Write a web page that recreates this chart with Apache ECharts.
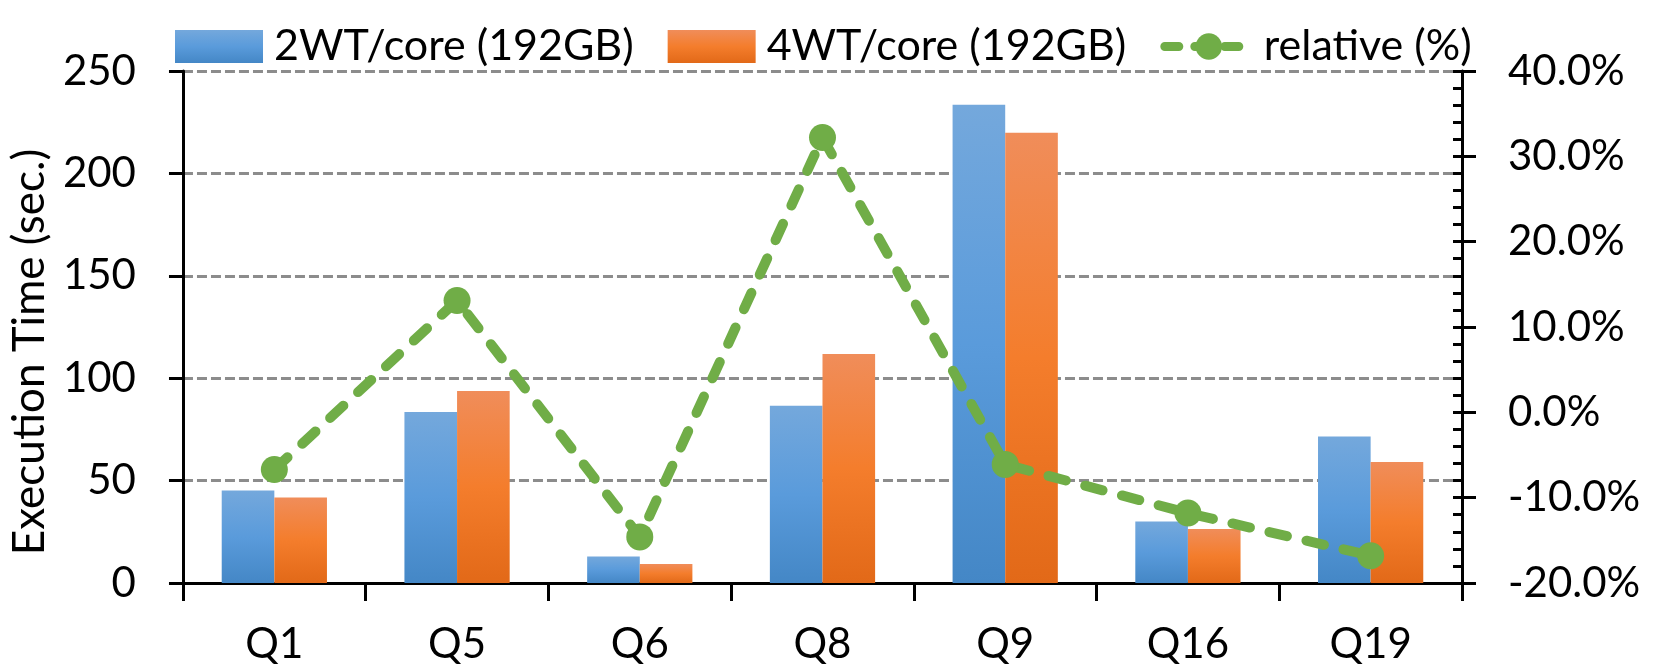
<!DOCTYPE html>
<html>
<head>
<meta charset="utf-8">
<title>Execution Time</title>
<script src="https://cdn.jsdelivr.net/npm/echarts@6/dist/echarts.min.js"></script>
<style>
  html, body { margin: 0; padding: 0; background: #ffffff; }
  #chart { width: 1660px; height: 668px; }
</style>
</head>
<body>
<div id="chart"></div>
<script>
// Queries on the category axis
const categories = ['Q1', 'Q5', 'Q6', 'Q8', 'Q9', 'Q16', 'Q19'];
// Execution time in seconds
const time2wt = [45.2, 83.5, 13.0, 86.5, 233.5, 30.0, 71.5];
const time4wt = [41.8, 93.8, 9.3, 111.8, 219.9, 26.4, 59.1];
// Relative change in percent (right axis)
const relative = [-6.7, 13.1, -14.6, 32.2, -6.1, -11.8, -16.8];

const seriesNames = ['2WT/core (192GB)', '4WT/core (192GB)', 'relative (%)'];
const axisName = 'Execution Time (sec.)';

const FONT = 'Lato, "Open Sans", sans-serif';
const GREEN = '#70ad47';

const chart = echarts.init(document.getElementById('chart'), null, { renderer: 'canvas' });

const blueFill = new echarts.graphic.LinearGradient(0, 0, 0, 1, [
  { offset: 0, color: '#74a8dc' },
  { offset: 0.5, color: '#5a9bdb' },
  { offset: 1, color: '#4487c6' }
]);
const orangeFill = new echarts.graphic.LinearGradient(0, 0, 0, 1, [
  { offset: 0, color: '#f08d5a' },
  { offset: 0.5, color: '#f47d2c' },
  { offset: 1, color: '#e26918' }
]);

const option = {
  animation: false,
  backgroundColor: '#ffffff',
  textStyle: { fontFamily: FONT, color: '#000000' },
  grid: { left: 172, right: 198, top: 71, bottom: 85, containLabel: false },
  legend: {
    top: 20,
    left: 170,
    itemWidth: 88,
    itemHeight: 33,
    itemGap: 34,
    textStyle: { fontFamily: FONT, fontSize: 43, color: '#000000', padding: [0, 0, 0, 6] },
    data: [
      { name: seriesNames[0], icon: 'rect' },
      { name: seriesNames[1], icon: 'rect' },
      {
        name: seriesNames[2],
        lineStyle: { color: GREEN, width: 9, type: [14, 16], cap: 'round' },
        itemStyle: { color: GREEN }
      }
    ]
  },
  xAxis: {
    type: 'category',
    data: categories,
    boundaryGap: true,
    axisLine: { show: true, lineStyle: { color: '#000000', width: 3 } },
    axisTick: { show: true, length: 18, interval: 0, alignWithLabel: false, lineStyle: { color: '#000000', width: 3 } },
    axisLabel: { margin: 40, fontFamily: FONT, fontSize: 42, color: '#000000' },
    splitLine: { show: false }
  },
  yAxis: [
    {
      type: 'value',
      min: 0,
      max: 250,
      interval: 50,
      position: 'left',
      name: axisName,
      nameLocation: 'middle',
      nameGap: 124,
      nameRotate: 90,
      nameTextStyle: { fontFamily: FONT, fontSize: 44, color: '#000000', padding: [0, 50, 0, 0] },
      axisLine: { show: true, lineStyle: { color: '#000000', width: 3 } },
      axisTick: { show: true, length: 14, lineStyle: { color: '#000000', width: 3 } },
      axisLabel: { margin: 47, fontFamily: FONT, fontSize: 42, color: '#000000' },
      splitLine: { show: true, lineStyle: { color: '#8c8c8c', width: 3, type: [10, 4] } }
    },
    {
      type: 'value',
      min: -20,
      max: 40,
      interval: 10,
      position: 'right',
      axisLine: { show: true, lineStyle: { color: '#000000', width: 3 } },
      axisTick: { show: true, length: 14, lineStyle: { color: '#000000', width: 3 } },
      axisLabel: {
        margin: 46,
        fontFamily: FONT,
        fontSize: 42,
        color: '#000000',
        formatter: function (v) { return v.toFixed(1) + '%'; }
      },
      splitLine: { show: false }
    },
    {
      // inner ticks of the right axis (major + minor)
      type: 'value',
      min: -20,
      max: 40,
      interval: 10,
      position: 'right',
      offset: 0,
      axisLine: { show: false },
      axisTick: { show: true, inside: true, length: 9, lineStyle: { color: '#000000', width: 3 } },
      minorTick: { show: true, splitNumber: 5, length: 9, lineStyle: { color: '#000000', width: 3 } },
      axisLabel: { show: false },
      splitLine: { show: false }
    }
  ],
  series: [
    {
      name: seriesNames[0],
      type: 'bar',
      data: time2wt,
      yAxisIndex: 0,
      barWidth: '28.8%',
      barGap: '0%',
      itemStyle: { color: blueFill },
      z: 2
    },
    {
      name: seriesNames[1],
      type: 'bar',
      data: time4wt,
      yAxisIndex: 0,
      barWidth: '28.8%',
      barGap: '0%',
      itemStyle: { color: orangeFill },
      z: 2
    },
    {
      name: seriesNames[2],
      type: 'line',
      data: relative,
      yAxisIndex: 1,
      symbol: 'circle',
      symbolSize: 27,
      itemStyle: { color: GREEN },
      lineStyle: { color: GREEN, width: 10, type: [18, 20], cap: 'round' },
      z: 5
    }
  ]
};

chart.setOption(option);
</script>
</body>
</html>
